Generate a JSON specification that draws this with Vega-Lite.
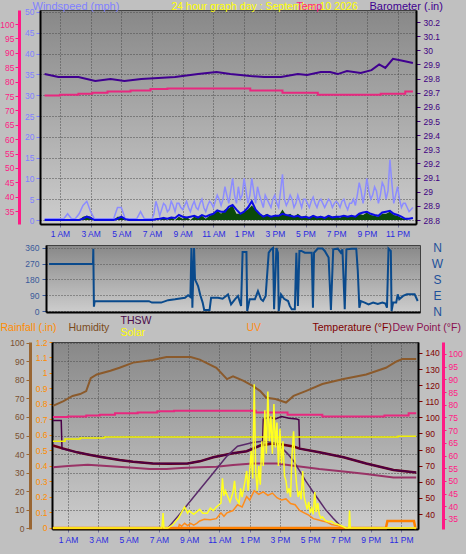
{
"$schema":"https://vega.github.io/schema/vega-lite/v6.json",
"background":"#c0c0c0",
"padding":{"left":-4,"top":0,"right":8,"bottom":10},
"spacing":-4,
"config":{
 "font":"Liberation Sans",
 "view":{"stroke":"#404040","strokeWidth":1,"fill":{"gradient":"linear","x1":0,"y1":0,"x2":0,"y2":1,"stops":[{"offset":0,"color":"#888888"},{"offset":1,"color":"#cdcdcd"}]}},
 "axis":{"labelFont":"Liberation Sans","titleFont":"Liberation Sans","labelFontSize":8.5,"titleFontSize":10.5,"titleFontWeight":"normal","labelOverlap":false,"labelFlush":false,"grid":false,"domain":false,"tickSize":4,"titlePadding":0}
},
"datasets":{
"wind":[{"h":0,"a":0,"w":0},{"h":0.25,"a":0,"w":0},{"h":0.5,"a":0,"w":0},{"h":0.75,"a":0,"w":0},{"h":1,"a":0,"w":0},{"h":1.25,"a":0,"w":0},{"h":1.5,"a":0,"w":0},{"h":1.75,"a":0,"w":0},{"h":2,"a":0,"w":0},{"h":2.25,"a":0,"w":0},{"h":2.5,"a":0.3,"w":0.8},{"h":2.75,"a":0.8,"w":1},{"h":3,"a":0.5,"w":0.8},{"h":3.25,"a":0,"w":0},{"h":3.5,"a":0,"w":0},{"h":3.75,"a":0,"w":0},{"h":4,"a":0,"w":0},{"h":4.25,"a":0,"w":0},{"h":4.5,"a":0,"w":0},{"h":4.75,"a":0.3,"w":0.8},{"h":5,"a":0.8,"w":0.8},{"h":5.25,"a":0.2,"w":0},{"h":5.5,"a":0,"w":0},{"h":5.75,"a":0,"w":0},{"h":6,"a":0,"w":0},{"h":6.25,"a":0,"w":0},{"h":6.5,"a":0,"w":0},{"h":6.75,"a":0,"w":0},{"h":7,"a":0,"w":0},{"h":7.25,"a":0.2,"w":0.3},{"h":7.5,"a":0.3,"w":0},{"h":7.75,"a":0.5,"w":0.8},{"h":8,"a":0.3,"w":0},{"h":8.25,"a":0.6,"w":0.8},{"h":8.5,"a":0.5,"w":0},{"h":8.75,"a":1.2,"w":0.8},{"h":9,"a":0.8,"w":0.3},{"h":9.25,"a":0.6,"w":0.8},{"h":9.5,"a":0.8,"w":0},{"h":9.75,"a":1,"w":0.8},{"h":10,"a":0.6,"w":0.5},{"h":10.25,"a":1.2,"w":1},{"h":10.5,"a":0.8,"w":0.3},{"h":10.75,"a":1.2,"w":1},{"h":11,"a":1.5,"w":1.5},{"h":11.25,"a":2.3,"w":2.2},{"h":11.5,"a":2,"w":1.5},{"h":11.75,"a":2,"w":2.5},{"h":12,"a":3.2,"w":2.8},{"h":12.25,"a":3.6,"w":3.5},{"h":12.5,"a":2.5,"w":1.5},{"h":12.75,"a":1.5,"w":1.5},{"h":13,"a":2,"w":2},{"h":13.25,"a":3,"w":2.5},{"h":13.5,"a":4.5,"w":3.5},{"h":13.75,"a":2.5,"w":2.5},{"h":14,"a":1.5,"w":1.5},{"h":14.25,"a":0.8,"w":1},{"h":14.5,"a":1.2,"w":1.5},{"h":14.75,"a":0.8,"w":0.8},{"h":15,"a":1,"w":1.2},{"h":15.25,"a":1,"w":1},{"h":15.5,"a":1.5,"w":2.5},{"h":15.75,"a":1.2,"w":1},{"h":16,"a":1,"w":1.5},{"h":16.25,"a":0.8,"w":0.8},{"h":16.5,"a":1,"w":1.5},{"h":16.75,"a":0.6,"w":0.8},{"h":17,"a":0.8,"w":1},{"h":17.25,"a":0.5,"w":0.5},{"h":17.5,"a":1,"w":1.2},{"h":17.75,"a":0.6,"w":0.5},{"h":18,"a":0.8,"w":1},{"h":18.25,"a":0.5,"w":0.5},{"h":18.5,"a":1,"w":1.2},{"h":18.75,"a":0.6,"w":0.8},{"h":19,"a":0.8,"w":1},{"h":19.25,"a":0.8,"w":0.5},{"h":19.5,"a":1,"w":1.2},{"h":19.75,"a":0.8,"w":0.8},{"h":20,"a":1,"w":1},{"h":20.25,"a":0.8,"w":0.8},{"h":20.5,"a":1.5,"w":1.5},{"h":20.75,"a":1.8,"w":1.2},{"h":21,"a":2,"w":1.8},{"h":21.25,"a":1.5,"w":1.2},{"h":21.5,"a":1.2,"w":1},{"h":21.75,"a":1,"w":0.8},{"h":22,"a":1.8,"w":1.5},{"h":22.25,"a":2,"w":1.5},{"h":22.5,"a":2.2,"w":2},{"h":22.75,"a":1.5,"w":1.2},{"h":23,"a":1.2,"w":1},{"h":23.25,"a":0.8,"w":0.5},{"h":23.5,"a":0.3,"w":0.3},{"h":23.75,"a":0.3,"w":0},{"h":24,"a":0.5,"w":0}],
"gust":[{"h":0,"g":0.3},{"h":0.25,"g":0.3},{"h":0.5,"g":0.3},{"h":0.75,"g":0.3},{"h":1,"g":0.3},{"h":1.25,"g":0.3},{"h":1.5,"g":1.5},{"h":1.75,"g":0.3},{"h":2,"g":0.3},{"h":2.25,"g":1.5},{"h":2.5,"g":3.5},{"h":2.75,"g":4.5},{"h":3,"g":2},{"h":3.25,"g":0.3},{"h":3.5,"g":0.3},{"h":3.75,"g":0.3},{"h":4,"g":0.3},{"h":4.25,"g":0.3},{"h":4.5,"g":0.3},{"h":4.75,"g":3},{"h":5,"g":3},{"h":5.25,"g":0.3},{"h":5.5,"g":0.3},{"h":5.75,"g":0.3},{"h":6,"g":0.3},{"h":6.25,"g":2},{"h":6.5,"g":0.3},{"h":6.75,"g":0.3},{"h":7,"g":0.3},{"h":7.125,"g":1.5},{"h":7.25,"g":4.5},{"h":7.375,"g":3},{"h":7.5,"g":1},{"h":7.625,"g":2.5},{"h":7.75,"g":4},{"h":7.875,"g":3.5},{"h":8,"g":2},{"h":8.125,"g":2.5},{"h":8.25,"g":4.5},{"h":8.375,"g":3.5},{"h":8.5,"g":2},{"h":8.625,"g":4},{"h":8.75,"g":4},{"h":8.875,"g":3},{"h":9,"g":2.5},{"h":9.125,"g":3.5},{"h":9.25,"g":4.5},{"h":9.375,"g":3},{"h":9.5,"g":2},{"h":9.625,"g":3.5},{"h":9.75,"g":4.5},{"h":9.875,"g":3},{"h":10,"g":2.5},{"h":10.125,"g":4},{"h":10.25,"g":5},{"h":10.375,"g":3},{"h":10.5,"g":2},{"h":10.625,"g":3.5},{"h":10.75,"g":4.5},{"h":10.875,"g":4},{"h":11,"g":3},{"h":11.125,"g":4.5},{"h":11.25,"g":6},{"h":11.375,"g":5},{"h":11.5,"g":3.5},{"h":11.625,"g":5},{"h":11.75,"g":8},{"h":11.875,"g":6},{"h":12,"g":4},{"h":12.125,"g":7},{"h":12.25,"g":10},{"h":12.375,"g":6},{"h":12.5,"g":4},{"h":12.625,"g":8},{"h":12.75,"g":5},{"h":12.875,"g":6},{"h":13,"g":10},{"h":13.125,"g":7},{"h":13.25,"g":4},{"h":13.375,"g":6},{"h":13.5,"g":10},{"h":13.625,"g":7},{"h":13.75,"g":4},{"h":13.875,"g":8},{"h":14,"g":6},{"h":14.125,"g":4.5},{"h":14.25,"g":3},{"h":14.375,"g":6},{"h":14.5,"g":5},{"h":14.625,"g":4},{"h":14.75,"g":3},{"h":14.875,"g":5},{"h":15,"g":6},{"h":15.125,"g":4},{"h":15.25,"g":3},{"h":15.375,"g":7},{"h":15.5,"g":11},{"h":15.625,"g":5},{"h":15.75,"g":3.5},{"h":15.875,"g":4.5},{"h":16,"g":6},{"h":16.125,"g":5},{"h":16.25,"g":3},{"h":16.375,"g":4},{"h":16.5,"g":6},{"h":16.625,"g":4.5},{"h":16.75,"g":3},{"h":16.875,"g":5},{"h":17,"g":5},{"h":17.125,"g":4},{"h":17.25,"g":3},{"h":17.375,"g":4.5},{"h":17.5,"g":5.5},{"h":17.625,"g":4},{"h":17.75,"g":3},{"h":17.875,"g":4.5},{"h":18,"g":5},{"h":18.125,"g":4},{"h":18.25,"g":3},{"h":18.375,"g":4},{"h":18.5,"g":5},{"h":18.625,"g":4.5},{"h":18.75,"g":3},{"h":18.875,"g":4},{"h":19,"g":4.5},{"h":19.125,"g":4},{"h":19.25,"g":3},{"h":19.375,"g":4.5},{"h":19.5,"g":5},{"h":19.625,"g":3.5},{"h":19.75,"g":2.5},{"h":19.875,"g":4},{"h":20,"g":4},{"h":20.125,"g":5},{"h":20.25,"g":3.5},{"h":20.375,"g":6},{"h":20.5,"g":9},{"h":20.625,"g":7},{"h":20.75,"g":4},{"h":20.875,"g":6.5},{"h":21,"g":10},{"h":21.125,"g":7},{"h":21.25,"g":5},{"h":21.375,"g":6},{"h":21.5,"g":8},{"h":21.625,"g":7},{"h":21.75,"g":4},{"h":21.875,"g":6},{"h":22,"g":9},{"h":22.125,"g":8},{"h":22.25,"g":5},{"h":22.375,"g":7},{"h":22.5,"g":14.5},{"h":22.625,"g":9},{"h":22.75,"g":4},{"h":22.875,"g":6},{"h":23,"g":8},{"h":23.125,"g":5},{"h":23.25,"g":3},{"h":23.375,"g":4},{"h":23.5,"g":4},{"h":23.625,"g":3},{"h":23.75,"g":2},{"h":23.875,"g":2.5},{"h":24,"g":3}],
"baro":[{"h":0,"p":29.832},{"h":0.9,"p":29.811},{"h":2.2,"p":29.811},{"h":3.3,"p":29.783},{"h":4.3,"p":29.797},{"h":5.2,"p":29.783},{"h":6.3,"p":29.797},{"h":7.4,"p":29.804},{"h":8.5,"p":29.811},{"h":10,"p":29.832},{"h":11.2,"p":29.847},{"h":12.1,"p":29.832},{"h":13.4,"p":29.818},{"h":14.3,"p":29.811},{"h":15.4,"p":29.811},{"h":16.5,"p":29.832},{"h":17.1,"p":29.825},{"h":18,"p":29.847},{"h":18.6,"p":29.847},{"h":19.1,"p":29.832},{"h":19.7,"p":29.854},{"h":20.6,"p":29.84},{"h":21.3,"p":29.86},{"h":21.8,"p":29.9},{"h":22.2,"p":29.875},{"h":22.7,"p":29.94},{"h":23.4,"p":29.925},{"h":24,"p":29.91}],
"tin":[{"h":0,"t":75.2},{"h":1,"t":75.4},{"h":2.2,"t":75.8},{"h":3.1,"t":76.1},{"h":4.1,"t":76.6},{"h":5.6,"t":76.9},{"h":6.9,"t":77.4},{"h":8,"t":77.6},{"h":13.4,"t":76.9},{"h":15.5,"t":76.1},{"h":17.8,"t":75.4},{"h":21.9,"t":75.8},{"h":23.5,"t":76.6},{"h":24,"t":76.6}],
"dir":[{"h":0,"d":268},{"h":2.86,"d":268},{"h":2.88,"d":356},{"h":2.92,"d":25},{"h":2.97,"d":56},{"h":6.5,"d":56},{"h":6.7,"d":48},{"h":7.3,"d":48},{"h":7.75,"d":62},{"h":8.2,"d":67},{"h":8.85,"d":76},{"h":9.05,"d":90},{"h":9.2,"d":80},{"h":9.27,"d":360},{"h":9.33,"d":19},{"h":9.44,"d":360},{"h":9.5,"d":181},{"h":9.7,"d":143},{"h":9.85,"d":90},{"h":10,"d":48},{"h":10.1,"d":6},{"h":10.45,"d":6},{"h":10.55,"d":76},{"h":11,"d":76},{"h":11.3,"d":70},{"h":11.65,"d":95},{"h":11.85,"d":38},{"h":12.1,"d":67},{"h":12.3,"d":86},{"h":12.5,"d":29},{"h":12.6,"d":337},{"h":12.85,"d":337},{"h":12.9,"d":0},{"h":13.06,"d":67},{"h":13.4,"d":67},{"h":13.6,"d":114},{"h":13.8,"d":67},{"h":13.93,"d":57},{"h":14.1,"d":86},{"h":14.3,"d":333},{"h":14.45,"d":352},{"h":14.58,"d":360},{"h":14.65,"d":10},{"h":14.8,"d":360},{"h":14.9,"d":333},{"h":14.95,"d":0},{"h":15.1,"d":95},{"h":15.3,"d":70},{"h":15.56,"d":57},{"h":15.67,"d":29},{"h":15.8,"d":10},{"h":16,"d":10},{"h":16.1,"d":333},{"h":16.2,"d":29},{"h":16.3,"d":343},{"h":16.43,"d":343},{"h":16.65,"d":333},{"h":17.1,"d":333},{"h":17.18,"d":19},{"h":17.25,"d":333},{"h":17.5,"d":357},{"h":17.8,"d":357},{"h":17.95,"d":343},{"h":18.2,"d":305},{"h":18.35,"d":6},{"h":18.5,"d":352},{"h":18.8,"d":356},{"h":19,"d":333},{"h":19.1,"d":352},{"h":19.25,"d":10},{"h":19.36,"d":352},{"h":19.7,"d":356},{"h":20,"d":356},{"h":20.1,"d":229},{"h":20.2,"d":19},{"h":20.3,"d":57},{"h":20.55,"d":48},{"h":20.8,"d":38},{"h":21.1,"d":48},{"h":21.4,"d":40},{"h":21.7,"d":48},{"h":21.9,"d":42},{"h":22,"d":19},{"h":22.1,"d":356},{"h":22.25,"d":343},{"h":22.3,"d":0},{"h":22.4,"d":48},{"h":22.6,"d":48},{"h":22.7,"d":95},{"h":22.8,"d":67},{"h":23.05,"d":86},{"h":23.3,"d":95},{"h":23.8,"d":95},{"h":24,"d":57}],
"hum":[{"h":0,"rh":66},{"h":0.7,"rh":68.6},{"h":1.3,"rh":71.4},{"h":1.8,"rh":72.4},{"h":2.2,"rh":74},{"h":2.5,"rh":81},{"h":2.9,"rh":83},{"h":3.8,"rh":85},{"h":4.4,"rh":86.6},{"h":5.3,"rh":89.4},{"h":6.6,"rh":90.8},{"h":7.5,"rh":92.4},{"h":9.1,"rh":92.4},{"h":9.7,"rh":91},{"h":10.8,"rh":86.6},{"h":11.5,"rh":80.5},{"h":11.9,"rh":82},{"h":12.6,"rh":79.5},{"h":13.2,"rh":76.8},{"h":13.7,"rh":74},{"h":14.1,"rh":70.4},{"h":14.7,"rh":69.7},{"h":15.4,"rh":67.8},{"h":15.9,"rh":71.4},{"h":16.7,"rh":74},{"h":17.8,"rh":77.8},{"h":19.2,"rh":80.5},{"h":20.7,"rh":83},{"h":22,"rh":86.6},{"h":22.7,"rh":90},{"h":23.1,"rh":91.4},{"h":24,"rh":91.4}],
"temp":[{"h":0,"tf":82.5},{"h":0.7,"tf":80.6},{"h":1.6,"tf":78.3},{"h":2.3,"tf":77},{"h":3.1,"tf":75.6},{"h":4.4,"tf":73.5},{"h":5.3,"tf":72.5},{"h":6.6,"tf":71.4},{"h":7.7,"tf":71.2},{"h":8.9,"tf":71.4},{"h":9.7,"tf":72.7},{"h":10.6,"tf":75.2},{"h":11.5,"tf":76.9},{"h":11.9,"tf":77.7},{"h":12.8,"tf":79},{"h":13.7,"tf":82.5},{"h":14.5,"tf":83.8},{"h":15.2,"tf":83},{"h":15.9,"tf":81.9},{"h":16.3,"tf":80.6},{"h":17.6,"tf":78.3},{"h":19.2,"tf":75.2},{"h":20.7,"tf":71.4},{"h":22.5,"tf":67.3},{"h":24,"tf":65.8}],
"dew":[{"h":0,"dp":69},{"h":1,"dp":69.8},{"h":2.3,"dp":70.6},{"h":3.3,"dp":70},{"h":4.3,"dp":69.4},{"h":5.3,"dp":68.7},{"h":6.4,"dp":67.9},{"h":7.5,"dp":68},{"h":8.5,"dp":68.5},{"h":9.7,"dp":69},{"h":10.8,"dp":69.4},{"h":11.9,"dp":70.4},{"h":13.2,"dp":71.4},{"h":14.8,"dp":71.4},{"h":15.9,"dp":70},{"h":16.7,"dp":69},{"h":17.6,"dp":67.9},{"h":19.2,"dp":66.4},{"h":20.7,"dp":64.8},{"h":22.5,"dp":62.7},{"h":24,"dp":62.7}],
"thsw":[{"h":0,"th":98},{"h":0.55,"th":98},{"h":0.6,"th":80.6},{"h":1.6,"th":78.3},{"h":3.1,"th":75.6},{"h":4.4,"th":73.5},{"h":5.3,"th":72.5},{"h":6.6,"th":71.4},{"h":8.9,"th":71.4},{"h":9.7,"th":72.7},{"h":10.6,"th":75.2},{"h":11.5,"th":76.9},{"h":11.9,"th":77.7},{"h":12.8,"th":79},{"h":13.7,"th":82.5},{"h":13.85,"th":82.7},{"h":13.9,"th":99},{"h":14.3,"th":100},{"h":14.7,"th":99},{"h":15.1,"th":100.5},{"h":15.6,"th":99.5},{"h":16.1,"th":99},{"h":16.25,"th":98.5},{"h":16.3,"th":80.6},{"h":17.6,"th":78.3},{"h":19.2,"th":75.2},{"h":20.7,"th":71.4},{"h":22.5,"th":67.3},{"h":24,"th":65.8}],
"solar":[{"h":0,"sr":0},{"h":7.2,"sr":0},{"h":7.28,"sr":120},{"h":7.33,"sr":0},{"h":7.6,"sr":0},{"h":7.95,"sr":30},{"h":8.3,"sr":80},{"h":8.7,"sr":170},{"h":8.9,"sr":120},{"h":9,"sr":140},{"h":9.3,"sr":110},{"h":9.7,"sr":150},{"h":9.9,"sr":120},{"h":10.2,"sr":120},{"h":10.4,"sr":160},{"h":10.6,"sr":140},{"h":10.8,"sr":170},{"h":11.1,"sr":200},{"h":11.2,"sr":400},{"h":11.3,"sr":260},{"h":11.4,"sr":300},{"h":11.6,"sr":240},{"h":11.7,"sr":210},{"h":11.9,"sr":290},{"h":12,"sr":380},{"h":12.1,"sr":240},{"h":12.3,"sr":200},{"h":12.4,"sr":320},{"h":12.5,"sr":250},{"h":12.7,"sr":380},{"h":12.8,"sr":460},{"h":12.9,"sr":300},{"h":13.1,"sr":620},{"h":13.2,"sr":400},{"h":13.3,"sr":1160},{"h":13.4,"sr":450},{"h":13.5,"sr":300},{"h":13.6,"sr":500},{"h":13.7,"sr":350},{"h":13.8,"sr":700},{"h":13.9,"sr":500},{"h":14,"sr":950},{"h":14.1,"sr":600},{"h":14.2,"sr":1100},{"h":14.3,"sr":700},{"h":14.4,"sr":900},{"h":14.5,"sr":600},{"h":14.6,"sr":1000},{"h":14.7,"sr":650},{"h":14.8,"sr":850},{"h":14.9,"sr":500},{"h":15,"sr":800},{"h":15.1,"sr":520},{"h":15.2,"sr":700},{"h":15.3,"sr":420},{"h":15.4,"sr":380},{"h":15.5,"sr":280},{"h":15.6,"sr":320},{"h":15.7,"sr":250},{"h":15.8,"sr":600},{"h":15.9,"sr":780},{"h":16,"sr":500},{"h":16.1,"sr":350},{"h":16.2,"sr":250},{"h":16.3,"sr":300},{"h":16.4,"sr":230},{"h":16.5,"sr":460},{"h":16.6,"sr":250},{"h":16.7,"sr":200},{"h":16.8,"sr":150},{"h":16.9,"sr":210},{"h":17,"sr":120},{"h":17.1,"sr":160},{"h":17.2,"sr":110},{"h":17.3,"sr":290},{"h":17.4,"sr":130},{"h":17.5,"sr":200},{"h":17.6,"sr":110},{"h":17.7,"sr":80},{"h":17.8,"sr":90},{"h":18,"sr":60},{"h":18.2,"sr":50},{"h":18.4,"sr":55},{"h":18.6,"sr":35},{"h":18.8,"sr":30},{"h":19,"sr":20},{"h":19.2,"sr":10},{"h":19.35,"sr":0},{"h":19.55,"sr":0},{"h":19.6,"sr":140},{"h":19.65,"sr":0},{"h":24,"sr":0}],
"bell":[{"h":7.6,"sm":0},{"h":8.5,"sm":130},{"h":9.5,"sm":280},{"h":10.5,"sm":430},{"h":11.5,"sm":580},{"h":12.2,"sm":660},{"h":13.2,"sm":690},{"h":13.9,"sm":700},{"h":14.5,"sm":690},{"h":15,"sm":660},{"h":15.5,"sm":600},{"h":15.9,"sm":540},{"h":16.3,"sm":460},{"h":16.7,"sm":380},{"h":17.2,"sm":290},{"h":17.6,"sm":220},{"h":18,"sm":150},{"h":18.5,"sm":80},{"h":18.9,"sm":30},{"h":19.2,"sm":0}],
"sflat":[{"h":0,"sh":700},{"h":0.8,"sh":717},{"h":1.8,"sh":725},{"h":3.4,"sh":733},{"h":22.8,"sh":740},{"h":24,"sh":740}],
"uv":[{"h":0,"uv":0},{"h":8.3,"uv":0},{"h":8.35,"uv":0.3},{"h":8.5,"uv":0.15},{"h":8.7,"uv":0.4},{"h":8.9,"uv":0.2},{"h":9.1,"uv":0.4},{"h":9.3,"uv":0.25},{"h":9.5,"uv":0.4},{"h":9.7,"uv":0.6},{"h":10,"uv":0.75},{"h":10.4,"uv":0.7},{"h":10.8,"uv":0.8},{"h":11.1,"uv":1.3},{"h":11.3,"uv":1},{"h":11.5,"uv":1.3},{"h":11.9,"uv":1.5},{"h":12.2,"uv":2},{"h":12.5,"uv":1.8},{"h":12.8,"uv":2.7},{"h":13,"uv":2.4},{"h":13.3,"uv":3.2},{"h":13.6,"uv":2.9},{"h":13.9,"uv":3.1},{"h":14.2,"uv":2.8},{"h":14.5,"uv":3},{"h":14.8,"uv":2.6},{"h":15.1,"uv":2.4},{"h":15.4,"uv":2.5},{"h":15.7,"uv":2.1},{"h":16,"uv":2},{"h":16.3,"uv":1.5},{"h":16.6,"uv":1.3},{"h":16.9,"uv":1.1},{"h":17.2,"uv":0.8},{"h":17.5,"uv":0.7},{"h":17.8,"uv":0.6},{"h":18.1,"uv":0.5},{"h":18.4,"uv":0.3},{"h":18.8,"uv":0.2},{"h":19.1,"uv":0.1},{"h":19.25,"uv":0},{"h":24,"uv":0}],
"rain":[{"h":0,"rn":0},{"h":22,"rn":0},{"h":22.1,"rn":0.045},{"h":23.85,"rn":0.045},{"h":23.95,"rn":0},{"h":24,"rn":0}],
"pad":[{"k":0}]
},
"vconcat":[
{"spacing":2,"vconcat":[
{"spacing":0,"hconcat":[
{"width":1,"height":1,"data":{"name":"pad"},"mark":{"type":"point","size":0,"opacity":0,"filled":true},"encoding":{},"view":{"fill":"transparent","stroke":"transparent"}},
{
"width":376,"height":214,
"resolve":{"scale":{"y":"independent"},"axis":{"y":"independent"}},
"layer":[
{"data":{"name":"gust"},"mark":{"type":"line","color":"#8c8cff","strokeWidth":1.5},
 "encoding":{
  "x":{"field":"h","type":"quantitative","scale":{"domain":[-0.3,24.2],"nice":false,"zero":false},"axis":{"values":[1,3,5,7,9,11,13,15,17,19,21,23],"labelExpr":"(datum.value > 12 ? datum.value - 12 : datum.value) + (datum.value < 12 ? ' AM' : ' PM')","title":null,"domain":true,"domainColor":"#000000","domainWidth":2,"grid":true,"gridColor":"#4a4a4a","gridDash":[1,2],"ticks":true,"tickSize":3,"tickColor":"#7070a0","labelColor":"#2a2ae0","labelPadding":2.5}},
  "y":{"field":"g","type":"quantitative","scale":{"domain":[-0.96,50.48],"nice":false,"zero":false},"axis":{"orient":"left","offset":0,"values":[0,5,10,15,20,25,30,35,40,45,50],"labelColor":"#8080ff","tickColor":"#8080ff","labelPadding":2,"domain":true,"domainColor":"#000000","domainWidth":2,"grid":true,"gridColor":"#4a4a4a","gridDash":[1,2],"title":"Windspeed (mph)","titleColor":"#8080ff","titleFontSize":11,"titleX":-8,"titleY":-0.5,"titleAngle":0,"titleAlign":"left","titleBaseline":"alphabetic"}}}},
{"data":{"name":"wind"},"mark":{"type":"area","color":"#0a4a0a"},
 "encoding":{
  "x":{"field":"h","type":"quantitative","scale":{"domain":[-0.3,24.2],"nice":false,"zero":false},"axis":{"values":[1,3,5,7,9,11,13,15,17,19,21,23],"labelExpr":"(datum.value > 12 ? datum.value - 12 : datum.value) + (datum.value < 12 ? ' AM' : ' PM')","title":null,"domain":true,"domainColor":"#000000","domainWidth":2,"grid":true,"gridColor":"#4a4a4a","gridDash":[1,2],"ticks":true,"tickSize":3,"tickColor":"#7070a0","labelColor":"#2a2ae0","labelPadding":2.5}},
  "y":{"field":"w","type":"quantitative","scale":{"domain":[-0.96,50.48],"nice":false,"zero":false},"axis":null},
  "y2":{"datum":0}}},
{"data":{"name":"wind"},"mark":{"type":"line","color":"#0a0ae6","strokeWidth":2},
 "encoding":{
  "x":{"field":"h","type":"quantitative","scale":{"domain":[-0.3,24.2],"nice":false,"zero":false},"axis":{"values":[1,3,5,7,9,11,13,15,17,19,21,23],"labelExpr":"(datum.value > 12 ? datum.value - 12 : datum.value) + (datum.value < 12 ? ' AM' : ' PM')","title":null,"domain":true,"domainColor":"#000000","domainWidth":2,"grid":true,"gridColor":"#4a4a4a","gridDash":[1,2],"ticks":true,"tickSize":3,"tickColor":"#7070a0","labelColor":"#2a2ae0","labelPadding":2.5}},
  "y":{"field":"a","type":"quantitative","scale":{"domain":[-0.96,50.48],"nice":false,"zero":false},"axis":{"orient":"left","offset":0,"labels":false,"ticks":false,"domain":false,"grid":false,"title":"24 hour graph day : September 10 2026","titleColor":"#ffff00","titleFontSize":10.5,"titleX":131,"titleY":-0.5,"titleAngle":0,"titleAlign":"left","titleBaseline":"alphabetic"}}}},
{"data":{"name":"baro"},"mark":{"type":"line","color":"#400090","strokeWidth":2},
 "encoding":{
  "x":{"field":"h","type":"quantitative","scale":{"domain":[-0.3,24.2],"nice":false,"zero":false},"axis":{"values":[1,3,5,7,9,11,13,15,17,19,21,23],"labelExpr":"(datum.value > 12 ? datum.value - 12 : datum.value) + (datum.value < 12 ? ' AM' : ' PM')","title":null,"domain":true,"domainColor":"#000000","domainWidth":2,"grid":true,"gridColor":"#4a4a4a","gridDash":[1,2],"ticks":true,"tickSize":3,"tickColor":"#7070a0","labelColor":"#2a2ae0","labelPadding":2.5}},
  "y":{"field":"p","type":"quantitative","scale":{"domain":[28.772,30.285],"nice":false,"zero":false},"axis":{"orient":"right","offset":0,"values":[28.8,28.9,29,29.1,29.2,29.3,29.4,29.5,29.6,29.7,29.8,29.9,30,30.1,30.2],"labelExpr":"format(datum.value, '.1~f')","labelColor":"#400080","tickColor":"#400080","labelPadding":3,"domain":true,"domainColor":"#000000","domainWidth":2,"grid":false,"title":"Barometer (.in)","titleColor":"#400090","titleFontSize":11,"titleX":-47,"titleY":-0.5,"titleAngle":0,"titleAlign":"left","titleBaseline":"alphabetic"}}}},
{"data":{"name":"tin"},"mark":{"type":"line","color":"#e8287f","strokeWidth":2,"interpolate":"step-after"},
 "encoding":{
  "x":{"field":"h","type":"quantitative","scale":{"domain":[-0.3,24.2],"nice":false,"zero":false},"axis":{"values":[1,3,5,7,9,11,13,15,17,19,21,23],"labelExpr":"(datum.value > 12 ? datum.value - 12 : datum.value) + (datum.value < 12 ? ' AM' : ' PM')","title":null,"domain":true,"domainColor":"#000000","domainWidth":2,"grid":true,"gridColor":"#4a4a4a","gridDash":[1,2],"ticks":true,"tickSize":3,"tickColor":"#7070a0","labelColor":"#2a2ae0","labelPadding":2.5}},
  "y":{"field":"t","type":"quantitative","scale":{"domain":[30.5,104.9],"nice":false,"zero":false},"axis":{"orient":"left","offset":21,"values":[35,40,45,50,55,60,65,70,75,80,85,90,95,100,105],"labelColor":"#ff1a85","tickColor":"#ff1a85","labelPadding":1,"domain":true,"domainColor":"#ff1a85","domainWidth":3,"grid":false,"title":"Temp","titleColor":"#ff1a85","titleFontSize":10.5,"titleX":277,"titleY":-0.5,"titleAngle":0,"titleAlign":"left","titleBaseline":"alphabetic"}}}}
]
}
]},
{"spacing":0,"hconcat":[
{"width":26,"height":1,"data":{"name":"pad"},"mark":{"type":"point","size":0,"opacity":0,"filled":true},"encoding":{},"view":{"fill":"transparent","stroke":"transparent"}},
{
"width":374,"height":67,
"resolve":{"scale":{"y":"independent"},"axis":{"y":"independent"}},
"layer":[
{"data":{"name":"dir"},"mark":{"type":"line","color":"#0a4a8c","strokeWidth":2},
 "encoding":{
  "x":{"field":"h","type":"quantitative","scale":{"domain":[-0.2,24.15],"nice":false,"zero":false},"axis":{"labels":false,"ticks":false,"grid":false,"domain":true,"domainColor":"#000000","domainWidth":2,"title":null}},
  "y":{"field":"d","type":"quantitative","scale":{"domain":[-5.7,377],"nice":false,"zero":false},"axis":{"orient":"left","offset":0,"values":[0,90,180,270,360],"labelColor":"#3a5a9a","tickColor":"#3a5a9a","labelPadding":3,"domain":true,"domainColor":"#000000","domainWidth":2,"grid":true,"gridColor":"#505050","gridDash":[1,2],"title":null}}}},
{"data":{"name":"dir"},"mark":{"type":"line","color":"#0a4a8c","strokeWidth":2,"opacity":0},
 "encoding":{
  "x":{"field":"h","type":"quantitative","scale":{"domain":[-0.2,24.15],"nice":false,"zero":false},"axis":{"labels":false,"ticks":false,"grid":false,"domain":true,"domainColor":"#000000","domainWidth":2,"title":null}},
  "y":{"field":"d","type":"quantitative","scale":{"domain":[-5.7,377],"nice":false,"zero":false},"axis":{"orient":"right","offset":0,"values":[0,90,180,270,360],"labelExpr":"datum.value == 0 || datum.value == 360 ? 'N' : datum.value == 90 ? 'E' : datum.value == 180 ? 'S' : 'W'","labelColor":"#20509a","labelFontSize":12,"labelAlign":"center","ticks":false,"labelPadding":17,"domain":false,"grid":false,"title":null}}}}
]
}
]}
]},
{"spacing":0,"hconcat":[
{"width":1,"height":1,"data":{"name":"pad"},"mark":{"type":"point","size":0,"opacity":0,"filled":true},"encoding":{},"view":{"fill":"transparent","stroke":"transparent"}},
{
"width":366,"height":187,
"resolve":{"scale":{"y":"independent"},"axis":{"y":"independent"}},
"layer":[
{"data":{"name":"hum"},"mark":{"type":"line","color":"#8b5a2b","strokeWidth":2},
 "encoding":{
  "x":{"field":"h","type":"quantitative","scale":{"domain":[-0.06,24.12],"nice":false,"zero":false},"axis":{"values":[1,3,5,7,9,11,13,15,17,19,21,23],"labelExpr":"(datum.value > 12 ? datum.value - 12 : datum.value) + (datum.value < 12 ? ' AM' : ' PM')","title":null,"domain":true,"domainColor":"#000000","domainWidth":2,"grid":true,"gridColor":"#4a4a4a","gridDash":[1,2],"ticks":true,"tickSize":3,"tickColor":"#7070a0","labelColor":"#2a2ae0","labelPadding":3}},
  "y":{"field":"rh","type":"quantitative","scale":{"domain":[-0.54,100.54],"nice":false,"zero":false},"axis":{"orient":"left","offset":22,"values":[0,10,20,30,40,50,60,70,80,90,100],"labelColor":"#7a5030","tickColor":"#996633","labelPadding":2,"domain":true,"domainColor":"#996633","domainWidth":3,"grid":true,"gridColor":"#4a4a4a","gridDash":[1,2],"title":"Humidity","titleColor":"#7a4a1a","titleFontSize":10.5,"titleX":38,"titleY":-12,"titleAngle":0,"titleAlign":"left","titleBaseline":"alphabetic"}}}},
{"data":{"name":"tin"},"mark":{"type":"line","color":"#e8287f","strokeWidth":2,"interpolate":"step-after"},
 "encoding":{
  "x":{"field":"h","type":"quantitative","scale":{"domain":[-0.06,24.12],"nice":false,"zero":false},"axis":{"values":[1,3,5,7,9,11,13,15,17,19,21,23],"labelExpr":"(datum.value > 12 ? datum.value - 12 : datum.value) + (datum.value < 12 ? ' AM' : ' PM')","title":null,"domain":true,"domainColor":"#000000","domainWidth":2,"grid":true,"gridColor":"#4a4a4a","gridDash":[1,2],"ticks":true,"tickSize":3,"tickColor":"#7070a0","labelColor":"#2a2ae0","labelPadding":3}},
  "y":{"field":"t","type":"quantitative","scale":{"domain":[31.06,104.7],"nice":false,"zero":false},"axis":{"orient":"right","offset":25,"values":[35,40,45,50,55,60,65,70,75,80,85,90,95,100],"labelColor":"#ff1a85","tickColor":"#ff1a85","tickSize":3,"labelPadding":2,"domain":true,"domainColor":"#ff1a85","domainWidth":3,"grid":false,"title":null}}}},
{"data":{"name":"dew"},"mark":{"type":"line","color":"#993366","strokeWidth":2},
 "encoding":{
  "x":{"field":"h","type":"quantitative","scale":{"domain":[-0.06,24.12],"nice":false,"zero":false},"axis":{"values":[1,3,5,7,9,11,13,15,17,19,21,23],"labelExpr":"(datum.value > 12 ? datum.value - 12 : datum.value) + (datum.value < 12 ? ' AM' : ' PM')","title":null,"domain":true,"domainColor":"#000000","domainWidth":2,"grid":true,"gridColor":"#4a4a4a","gridDash":[1,2],"ticks":true,"tickSize":3,"tickColor":"#7070a0","labelColor":"#2a2ae0","labelPadding":3}},
  "y":{"field":"dp","type":"quantitative","scale":{"domain":[30.7,146.8],"nice":false,"zero":false},"axis":{"orient":"right","offset":0,"labels":false,"ticks":false,"domain":false,"grid":false,"title":"Dew Point (°F)","titleColor":"#8b1050","titleFontSize":10.5,"titleX":-26,"titleY":-12,"titleAngle":0,"titleAlign":"left","titleBaseline":"alphabetic"}}}},
{"data":{"name":"temp"},"mark":{"type":"line","color":"#6b0018","strokeWidth":2.5},
 "encoding":{
  "x":{"field":"h","type":"quantitative","scale":{"domain":[-0.06,24.12],"nice":false,"zero":false},"axis":{"values":[1,3,5,7,9,11,13,15,17,19,21,23],"labelExpr":"(datum.value > 12 ? datum.value - 12 : datum.value) + (datum.value < 12 ? ' AM' : ' PM')","title":null,"domain":true,"domainColor":"#000000","domainWidth":2,"grid":true,"gridColor":"#4a4a4a","gridDash":[1,2],"ticks":true,"tickSize":3,"tickColor":"#7070a0","labelColor":"#2a2ae0","labelPadding":3}},
  "y":{"field":"tf","type":"quantitative","scale":{"domain":[30.7,146.8],"nice":false,"zero":false},"axis":{"orient":"right","offset":0,"values":[40,50,60,70,80,90,100,110,120,130,140],"labelColor":"#800000","tickColor":"#800000","labelPadding":3,"domain":true,"domainColor":"#000000","domainWidth":2,"grid":false,"title":"Temperature (°F)","titleColor":"#800000","titleFontSize":10.5,"titleX":-106,"titleY":-12,"titleAngle":0,"titleAlign":"left","titleBaseline":"alphabetic"}}}},
{"data":{"name":"thsw"},"mark":{"type":"line","color":"#4a0048","strokeWidth":1.5},
 "encoding":{
  "x":{"field":"h","type":"quantitative","scale":{"domain":[-0.06,24.12],"nice":false,"zero":false},"axis":{"values":[1,3,5,7,9,11,13,15,17,19,21,23],"labelExpr":"(datum.value > 12 ? datum.value - 12 : datum.value) + (datum.value < 12 ? ' AM' : ' PM')","title":null,"domain":true,"domainColor":"#000000","domainWidth":2,"grid":true,"gridColor":"#4a4a4a","gridDash":[1,2],"ticks":true,"tickSize":3,"tickColor":"#7070a0","labelColor":"#2a2ae0","labelPadding":3}},
  "y":{"field":"th","type":"quantitative","scale":{"domain":[30.7,146.8],"nice":false,"zero":false},"axis":{"orient":"left","offset":0,"labels":false,"ticks":false,"domain":false,"grid":false,"title":"THSW","titleColor":"#4a0a4a","titleFontSize":10.5,"titleX":68,"titleY":-19,"titleAngle":0,"titleAlign":"left","titleBaseline":"alphabetic"}}}},
{"data":{"name":"bell"},"mark":{"type":"line","color":"#5a2a6a","strokeWidth":1.5},
 "encoding":{
  "x":{"field":"h","type":"quantitative","scale":{"domain":[-0.06,24.12],"nice":false,"zero":false},"axis":{"values":[1,3,5,7,9,11,13,15,17,19,21,23],"labelExpr":"(datum.value > 12 ? datum.value - 12 : datum.value) + (datum.value < 12 ? ' AM' : ' PM')","title":null,"domain":true,"domainColor":"#000000","domainWidth":2,"grid":true,"gridColor":"#4a4a4a","gridDash":[1,2],"ticks":true,"tickSize":3,"tickColor":"#7070a0","labelColor":"#2a2ae0","labelPadding":3}},
  "y":{"field":"sm","type":"quantitative","scale":{"domain":[-8,1500],"nice":false,"zero":false},"axis":null}}},
{"data":{"name":"uv"},"mark":{"type":"line","color":"#ff8c1a","strokeWidth":1.5},
 "encoding":{
  "x":{"field":"h","type":"quantitative","scale":{"domain":[-0.06,24.12],"nice":false,"zero":false},"axis":{"values":[1,3,5,7,9,11,13,15,17,19,21,23],"labelExpr":"(datum.value > 12 ? datum.value - 12 : datum.value) + (datum.value < 12 ? ' AM' : ' PM')","title":null,"domain":true,"domainColor":"#000000","domainWidth":2,"grid":true,"gridColor":"#4a4a4a","gridDash":[1,2],"ticks":true,"tickSize":3,"tickColor":"#7070a0","labelColor":"#2a2ae0","labelPadding":3}},
  "y":{"field":"uv","type":"quantitative","scale":{"domain":[-0.09,16],"nice":false,"zero":false},"axis":{"orient":"left","offset":0,"labels":false,"ticks":false,"domain":false,"grid":false,"title":"UV","titleColor":"#ff8c1a","titleFontSize":10.5,"titleX":194,"titleY":-12,"titleAngle":0,"titleAlign":"left","titleBaseline":"alphabetic"}}}},
{"data":{"name":"sflat"},"mark":{"type":"line","color":"#f0f000","strokeWidth":1.5,"interpolate":"step-after"},
 "encoding":{
  "x":{"field":"h","type":"quantitative","scale":{"domain":[-0.06,24.12],"nice":false,"zero":false},"axis":{"values":[1,3,5,7,9,11,13,15,17,19,21,23],"labelExpr":"(datum.value > 12 ? datum.value - 12 : datum.value) + (datum.value < 12 ? ' AM' : ' PM')","title":null,"domain":true,"domainColor":"#000000","domainWidth":2,"grid":true,"gridColor":"#4a4a4a","gridDash":[1,2],"ticks":true,"tickSize":3,"tickColor":"#7070a0","labelColor":"#2a2ae0","labelPadding":3}},
  "y":{"field":"sh","type":"quantitative","scale":{"domain":[-8,1500],"nice":false,"zero":false},"axis":null}}},
{"data":{"name":"rain"},"mark":{"type":"line","color":"#ff8000","strokeWidth":2.5},
 "encoding":{
  "x":{"field":"h","type":"quantitative","scale":{"domain":[-0.06,24.12],"nice":false,"zero":false},"axis":{"values":[1,3,5,7,9,11,13,15,17,19,21,23],"labelExpr":"(datum.value > 12 ? datum.value - 12 : datum.value) + (datum.value < 12 ? ' AM' : ' PM')","title":null,"domain":true,"domainColor":"#000000","domainWidth":2,"grid":true,"gridColor":"#4a4a4a","gridDash":[1,2],"ticks":true,"tickSize":3,"tickColor":"#7070a0","labelColor":"#2a2ae0","labelPadding":3}},
  "y":{"field":"rn","type":"quantitative","scale":{"domain":[-0.0065,1.2],"nice":false,"zero":false},"axis":{"orient":"left","offset":0,"values":[0,0.1,0.2,0.3,0.4,0.5,0.6,0.7,0.8,0.9,1,1.1,1.2],"labelExpr":"format(datum.value, '.1~f')","labelColor":"#ff8c00","tickColor":"#ff8c00","tickSize":3,"labelPadding":2,"domain":true,"domainColor":"#000000","domainWidth":2,"grid":false,"title":"Rainfall (.in)","titleColor":"#ff8c00","titleFontSize":10.5,"titleX":-52,"titleY":-12,"titleAngle":0,"titleAlign":"left","titleBaseline":"alphabetic"}}}},
{"data":{"name":"solar"},"mark":{"type":"line","color":"#ffff20","strokeWidth":1.5},
 "encoding":{
  "x":{"field":"h","type":"quantitative","scale":{"domain":[-0.06,24.12],"nice":false,"zero":false},"axis":{"values":[1,3,5,7,9,11,13,15,17,19,21,23],"labelExpr":"(datum.value > 12 ? datum.value - 12 : datum.value) + (datum.value < 12 ? ' AM' : ' PM')","title":null,"domain":true,"domainColor":"#000000","domainWidth":2,"grid":true,"gridColor":"#4a4a4a","gridDash":[1,2],"ticks":true,"tickSize":3,"tickColor":"#7070a0","labelColor":"#2a2ae0","labelPadding":3}},
  "y":{"field":"sr","type":"quantitative","scale":{"domain":[-8,1500],"nice":false,"zero":false},"axis":{"orient":"left","offset":0,"labels":false,"ticks":false,"domain":false,"grid":false,"title":"Solar","titleColor":"#ffff00","titleFontSize":10.5,"titleX":68,"titleY":-7,"titleAngle":0,"titleAlign":"left","titleBaseline":"alphabetic"}}}}
]
}
]}
]
}
